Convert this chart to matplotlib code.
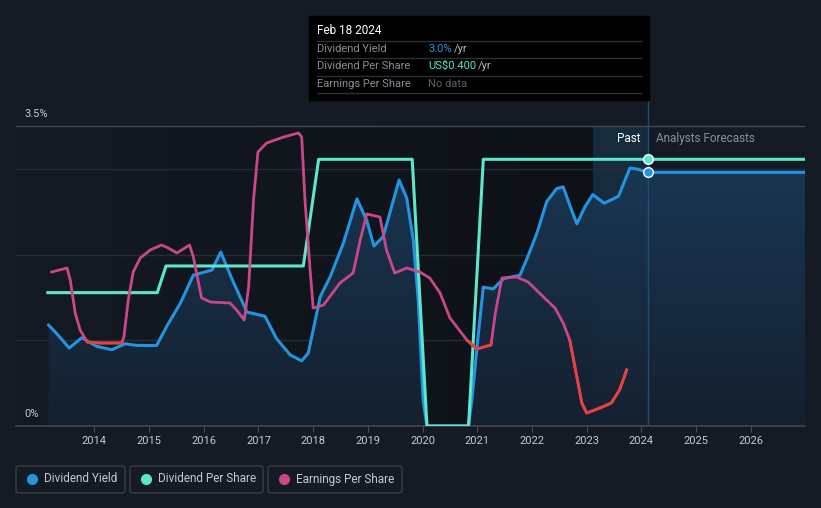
import numpy as np
import matplotlib.pyplot as plt
from matplotlib.patches import Rectangle, FancyBboxPatch
from matplotlib.lines import Line2D
from matplotlib.colors import LinearSegmentedColormap

plt.rcParams['font.family'] = ['Roboto', 'DejaVu Sans']

# dividend yield (%)
yield_years = [2013.16, 2013.31, 2013.54, 2013.77, 2014.04, 2014.32, 2014.56, 2014.78, 2015.14, 2015.32,
               2015.57, 2015.81, 2016.15, 2016.31, 2016.54, 2016.79, 2017.12, 2017.33, 2017.58, 2017.79,
               2017.91, 2018.13, 2018.31, 2018.55, 2018.80, 2018.98, 2019.11, 2019.28, 2019.57, 2019.71,
               2019.83, 2019.92, 2020.01, 2020.08, 2020.84, 2020.90, 2021.02, 2021.11, 2021.29, 2021.48,
               2021.78, 2021.90, 2022.09, 2022.27, 2022.45, 2022.57, 2022.70, 2022.82, 2022.97, 2023.11,
               2023.32, 2023.58, 2023.79, 2023.91, 2024.12, 2026.99]
yield_vals = [1.18, 1.08, 0.91, 1.03, 0.93, 0.89, 0.96, 0.94, 0.94, 1.16,
              1.43, 1.76, 1.82, 2.03, 1.68, 1.33, 1.28, 1.02, 0.83, 0.76,
              0.85, 1.51, 1.74, 2.13, 2.65, 2.40, 2.10, 2.21, 2.87, 2.66,
              2.17, 1.47, 0.30, 0.0, 0.0, 0.30, 1.08, 1.62, 1.60, 1.72,
              1.76, 1.94, 2.25, 2.62, 2.77, 2.79, 2.56, 2.36, 2.56, 2.70,
              2.60, 2.68, 3.01, 3.00, 2.96, 2.96]

# dividend per share (US$)
dps_years = [2013.15, 2015.15, 2015.31, 2017.82, 2018.10, 2019.81, 2020.08, 2020.84, 2021.11, 2024.12, 2026.99]
dps_vals = [0.20, 0.20, 0.24, 0.24, 0.40, 0.40, 0.0, 0.0, 0.40, 0.40, 0.40]

# earnings per share (relative units)
eps_years = [2013.22, 2013.50, 2013.56, 2013.65, 2013.74, 2013.87, 2014.10, 2014.50, 2014.54, 2014.62,
             2014.71, 2014.84, 2015.02, 2015.23, 2015.35, 2015.51, 2015.74, 2015.81, 2015.96, 2016.12,
             2016.48, 2016.60, 2016.74, 2016.82, 2016.91, 2016.99, 2017.15, 2017.46, 2017.73, 2017.79,
             2017.85, 2017.94, 2018.00, 2018.19, 2018.49, 2018.73, 2018.86, 2018.98, 2019.22, 2019.34,
             2019.49, 2019.71, 2019.95, 2020.13, 2020.32, 2020.50, 2020.81, 2020.99, 2021.25, 2021.33,
             2021.45, 2021.72, 2021.93, 2022.21, 2022.42, 2022.57, 2022.69, 2022.82, 2022.91, 2023.00,
             2023.24, 2023.45, 2023.60, 2023.73]
eps_vals = [1.54, 1.58, 1.46, 1.13, 0.96, 0.84, 0.83, 0.83, 0.89, 1.26,
            1.54, 1.68, 1.76, 1.81, 1.78, 1.73, 1.81, 1.69, 1.28, 1.24,
            1.23, 1.16, 1.06, 1.39, 2.26, 2.74, 2.83, 2.89, 2.93, 2.89,
            2.26, 1.59, 1.18, 1.21, 1.43, 1.53, 1.86, 2.12, 2.09, 1.76,
            1.53, 1.58, 1.54, 1.48, 1.33, 1.08, 0.86, 0.77, 0.81, 1.13,
            1.48, 1.49, 1.44, 1.29, 1.18, 1.03, 0.86, 0.49, 0.23, 0.13,
            0.18, 0.23, 0.36, 0.56]
eps_threshold = 0.86

year_ticks = list(range(2014, 2027))
now_year = 2024.12
past_start = 2023.11

BG = '#151b25'
BLUE = '#2394df'
TEAL = '#5ee6cb'
PINK = '#c8488a'
RED = '#e8413f'

W, H = 821, 508
fig = plt.figure(figsize=(W / 100, H / 100), dpi=100, facecolor=BG)


def fx(px):
    return px / W


def fy(py):
    return 1 - py / H


ax = fig.add_axes([fx(16), fy(426), fx(805) - fx(16), fy(100) - fy(426)])
ax.set_facecolor(BG)
xmin, xmax = 2012.568, 2026.99
ymax = 326 / 85.7
for s in ax.spines.values():
    s.set_visible(False)

# darker past area (slight horizontal gradient) and highlighted last year
dark = LinearSegmentedColormap.from_list('d', ['#141a23', '#0e1217'])
ax.imshow(np.linspace(0, 1, 256).reshape(1, -1), extent=[xmin, past_start, 0, 3.5],
          aspect='auto', cmap=dark, zorder=0)
ax.fill_between([past_start, now_year], 0, 3.5, color='#1b4a72', alpha=0.35, zorder=0.5, lw=0)

# grid lines
for g in [1, 2, 3]:
    ax.axhline(g, color='#262d37', lw=1, zorder=1)
ax.axhline(3.5, color='#434952', lw=1, zorder=1)
ax.axhline(0, color='#434952', lw=1.2, zorder=6, clip_on=False)

# gradient fill under dividend yield
fill = ax.fill_between(yield_years, yield_vals, 0, color='none', lw=0)
cmap = LinearSegmentedColormap.from_list('g', ['#162130', '#1a3957'])
img = ax.imshow(np.linspace(0, 1, 256).reshape(-1, 1), extent=[yield_years[0], yield_years[-1], 0, 3.1],
                origin='lower', aspect='auto', cmap=cmap, zorder=2, alpha=0.95)
img.set_clip_path(fill.get_paths()[0], transform=ax.transData)
ax.set_xlim(xmin, xmax)
ax.set_ylim(0, ymax)

ax.plot(yield_years, yield_vals, color=BLUE, lw=2.2, zorder=4, solid_capstyle='round')

# dividend per share on its own scale
ax2 = ax.twinx()
ax2.set_ylim(0, 0.4 * 326 / 266.7)
ax2.axis('off')
ax2.plot(dps_years, dps_vals, color=TEAL, lw=2.2, zorder=3)

# earnings per share on its own scale
ax3 = ax.twinx()
ax3.set_ylim(0, 3.26)
ax3.axis('off')
ax3.plot(eps_years, eps_vals, color=PINK, lw=2, zorder=3)
red_line, = ax3.plot(eps_years, eps_vals, color=RED, lw=2, zorder=3.1)
red_line.set_clip_path(Rectangle((2012, -1), 20, eps_threshold + 1, transform=ax3.transData))

# current-date line and markers
ax.axvline(now_year, color='#214d72', lw=1, zorder=5)
ax.plot([now_year], [yield_vals[-2]], 'o', ms=7, color=BLUE, mec='white', mew=1, zorder=7)
ax2.plot([now_year], [dps_vals[-2]], 'o', ms=7, color=TEAL, mec='white', mew=1, zorder=7)

ax.text(2023.98, 3.36, 'Past', color='white', fontsize=8.5, ha='right', va='center', zorder=8)
ax.text(2024.27, 3.36, 'Analysts Forecasts', color='#8b9098', fontsize=8.5, ha='left', va='center', zorder=8)

# axis labels
ax.set_yticks([])
ax.set_xticks(year_ticks)
ax.set_xticklabels([str(y) for y in year_ticks], fontsize=8, color='#c6cad0')
ax.tick_params(axis='x', length=4, color='#4a5058', pad=3)
ax.text(2012.72, 3.5 + 12 / 85.7, '3.5%', color='#c6cad0', fontsize=8, ha='left', va='center')
ax.text(2012.72, 12 / 85.7, '0%', color='#c6cad0', fontsize=8, ha='left', va='center')

# tooltip box
fig.patches.append(Rectangle((fx(309), fy(100)), fx(649) - fx(309), fy(16) - fy(100),
                             transform=fig.transFigure, color='black', zorder=10))
fig.text(fx(317), fy(31), 'Feb 18 2024', color='white', fontsize=8.5, va='center', zorder=11)
for ly in [41, 58, 76, 93]:
    fig.add_artist(Line2D([fx(317), fx(641)], [fy(ly), fy(ly)], color='#2c3036', lw=1, zorder=11))
rows = [('Dividend Yield', 49, [('3.0%', BLUE, 428), ('/yr', '#b8bcc2', 454)]),
        ('Dividend Per Share', 66, [('US$0.400', TEAL, 428), ('/yr', '#b8bcc2', 478)]),
        ('Earnings Per Share', 84, [('No data', '#5a5f66', 428)])]
for label, ry, parts in rows:
    fig.text(fx(317), fy(ry), label, color='#8a8f96', fontsize=8, va='center', zorder=11)
    for txt, col, px in parts:
        fig.text(fx(px), fy(ry), txt, color=col, fontsize=8, va='center', zorder=11)

# legend boxes
legend_items = [('Dividend Yield', BLUE, 16, 125), ('Dividend Per Share', TEAL, 130, 263),
                ('Earnings Per Share', PINK, 268, 402)]
for name, col, x0, x1 in legend_items:
    fig.patches.append(FancyBboxPatch((fx(x0), fy(493)), fx(x1) - fx(x0), fy(466) - fy(493),
                                      boxstyle='round,pad=0,rounding_size=0.004',
                                      transform=fig.transFigure, fc='none', ec='#3a3f48', lw=1))
    fig.add_artist(Line2D([fx(x0 + 16)], [fy(479)], marker='o', ms=7, color=col, lw=0))
    fig.text(fx(x0 + 28), fy(479), name, color='#c6cad0', fontsize=8.5, va='center')

fig.savefig('out.png', dpi=100, facecolor=BG)
